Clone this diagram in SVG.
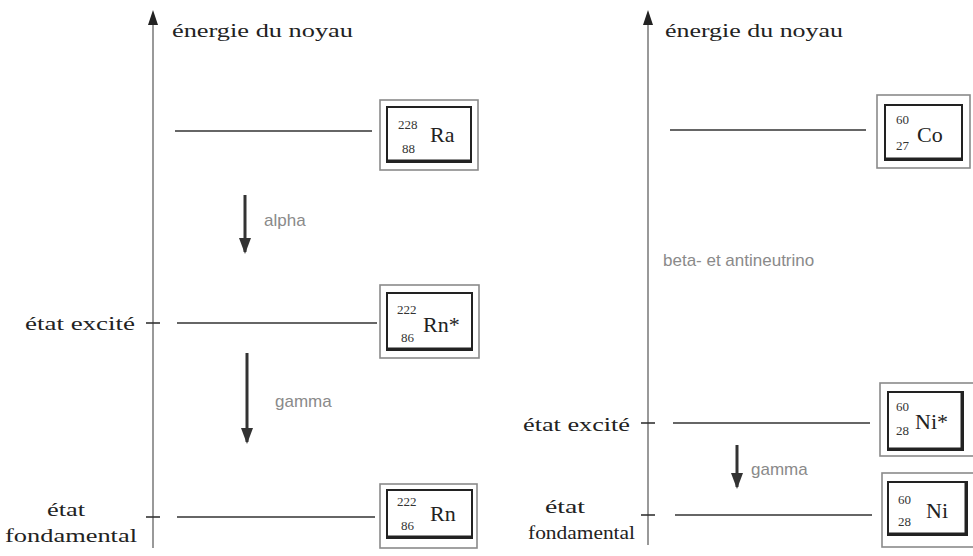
<svg xmlns="http://www.w3.org/2000/svg" width="973" height="556" viewBox="0 0 973 556">
  <style>
    .axis { stroke: #555; stroke-width: 1.2; fill: none; }
    .axhead { fill: #222; }
    .level { stroke: #333; stroke-width: 1.6; }
    .tick { stroke: #333; stroke-width: 1.6; }
    .lbl { font-family: "Liberation Serif", "DejaVu Serif", serif; font-size: 18px; fill: #222; }
    .proc { font-family: "Liberation Sans", Arial, sans-serif; font-size: 17px; fill: #8a8a8a; }
    .outer { fill: #fff; stroke: #8a8a8a; stroke-width: 1.6; }
    .inner { fill: #fff; stroke: #222; stroke-width: 2; }
    .shade { stroke: #222; stroke-width: 3; }
    .sym { font-family: "Liberation Serif", "DejaVu Serif", serif; font-size: 22px; fill: #222; }
    .num { font-family: "Liberation Serif", "DejaVu Serif", serif; font-size: 13px; fill: #333; }
    .decay { stroke: #333; stroke-width: 3; }
  </style>
  <defs>
    <marker id="down" viewBox="0 0 12 16" refX="6" refY="14" markerWidth="12" markerHeight="16" markerUnits="userSpaceOnUse" orient="0">
      <path d="M0,0 L12,0 L6,16 Z" fill="#333"/>
    </marker>
  </defs>

  <!-- energy axes -->
  <g id="axes">
    <line class="axis" x1="153" y1="548" x2="153" y2="20"/>
    <polygon class="axhead" points="153,10 148,25 158,25"/>
    <text class="lbl" x="172" y="37" textLength="181" lengthAdjust="spacingAndGlyphs">énergie du noyau</text>
    <line class="axis" x1="648" y1="545" x2="648" y2="20"/>
    <polygon class="axhead" points="648,10 643,25 653,25"/>
    <text class="lbl" x="665" y="37" textLength="178" lengthAdjust="spacingAndGlyphs">énergie du noyau</text>
  </g>

  <!-- state labels on the axes -->
  <g id="state-labels">
    <line class="tick" x1="146" y1="323" x2="160" y2="323"/>
    <text class="lbl" x="25" y="330" textLength="110" lengthAdjust="spacingAndGlyphs">état excité</text>
    <line class="tick" x1="146" y1="517" x2="160" y2="517"/>
    <text class="lbl" x="47" y="516" textLength="38" lengthAdjust="spacingAndGlyphs">état</text>
    <text class="lbl" x="5" y="542" textLength="132" lengthAdjust="spacingAndGlyphs">fondamental</text>

    <line class="tick" x1="641" y1="423" x2="655" y2="423"/>
    <text class="lbl" x="523" y="431" textLength="107" lengthAdjust="spacingAndGlyphs">état excité</text>
    <line class="tick" x1="641" y1="515" x2="655" y2="515"/>
    <text class="lbl" x="545" y="513" textLength="40" lengthAdjust="spacingAndGlyphs">état</text>
    <text class="lbl" x="528" y="539" textLength="107" lengthAdjust="spacingAndGlyphs">fondamental</text>
  </g>

  <!-- energy levels and decay arrows -->
  <g id="connectors">
    <line class="level" x1="175" y1="131" x2="372" y2="131"/>
    <line class="level" x1="177" y1="323" x2="377" y2="323"/>
    <line class="level" x1="177" y1="517" x2="375" y2="517"/>
    <line class="level" x1="670" y1="130" x2="866" y2="130"/>
    <line class="level" x1="673" y1="423" x2="870" y2="423"/>
    <line class="level" x1="675" y1="515" x2="872" y2="515"/>

    <line class="decay" x1="245" y1="195" x2="245" y2="252" marker-end="url(#down)"/>
    <line class="decay" x1="247" y1="353" x2="247" y2="442" marker-end="url(#down)"/>
    <line class="decay" x1="737" y1="445" x2="737" y2="487" marker-end="url(#down)"/>
  </g>

  <g id="process-labels">
    <text class="proc" x="264" y="226">alpha</text>
    <text class="proc" x="275" y="407">gamma</text>
    <text class="proc" x="663" y="266">beta- et antineutrino</text>
    <text class="proc" x="751" y="475">gamma</text>
  </g>

  <!-- nuclide boxes -->
  <g id="ra226">
    <rect class="outer" x="380" y="100" width="98" height="70"/>
    <rect class="inner" x="387" y="107" width="84" height="55"/>
    <line class="shade" x1="387" y1="161" x2="471" y2="161"/>
    <text class="num" x="398" y="129">228</text>
    <text class="num" x="402" y="153">88</text>
    <text class="sym" x="430" y="142">Ra</text>
  </g>

  <g id="rn222-excited">
    <rect class="outer" x="380" y="285" width="99" height="73"/>
    <rect class="inner" x="387" y="293" width="85" height="57"/>
    <line class="shade" x1="387" y1="349" x2="472" y2="349"/>
    <text class="num" x="397" y="314">222</text>
    <text class="num" x="401" y="342">86</text>
    <text class="sym" x="423" y="332">Rn*</text>
  </g>

  <g id="rn222">
    <rect class="outer" x="380" y="484" width="97" height="64"/>
    <rect class="inner" x="387" y="490" width="85" height="48"/>
    <line class="shade" x1="387" y1="537" x2="472" y2="537"/>
    <text class="num" x="397" y="506">222</text>
    <text class="num" x="401" y="530">86</text>
    <text class="sym" x="430" y="521">Rn</text>
  </g>

  <g id="co60">
    <rect class="outer" x="877" y="95" width="93" height="73"/>
    <rect class="inner" x="885" y="105" width="77" height="55"/>
    <line class="shade" x1="885" y1="159" x2="962" y2="159"/>
    <text class="num" x="896" y="124">60</text>
    <text class="num" x="896" y="150">27</text>
    <text class="sym" x="917" y="142">Co</text>
  </g>

  <g id="ni60-excited">
    <rect class="outer" x="880" y="383" width="96" height="73"/>
    <rect class="inner" x="888" y="392" width="75" height="58"/>
    <line class="shade" x1="962" y1="392" x2="962" y2="450"/>
    <line class="shade" x1="888" y1="449" x2="963" y2="449"/>
    <text class="num" x="896" y="411">60</text>
    <text class="num" x="896" y="435">28</text>
    <text class="sym" x="915" y="429">Ni*</text>
  </g>

  <g id="ni60">
    <rect class="outer" x="882" y="473" width="94" height="74"/>
    <rect class="inner" x="888" y="482" width="79" height="53"/>
    <line class="shade" x1="966" y1="482" x2="966" y2="535"/>
    <line class="shade" x1="888" y1="534" x2="967" y2="534"/>
    <text class="num" x="898" y="504">60</text>
    <text class="num" x="898" y="526">28</text>
    <text class="sym" x="926" y="518">Ni</text>
  </g>
</svg>
